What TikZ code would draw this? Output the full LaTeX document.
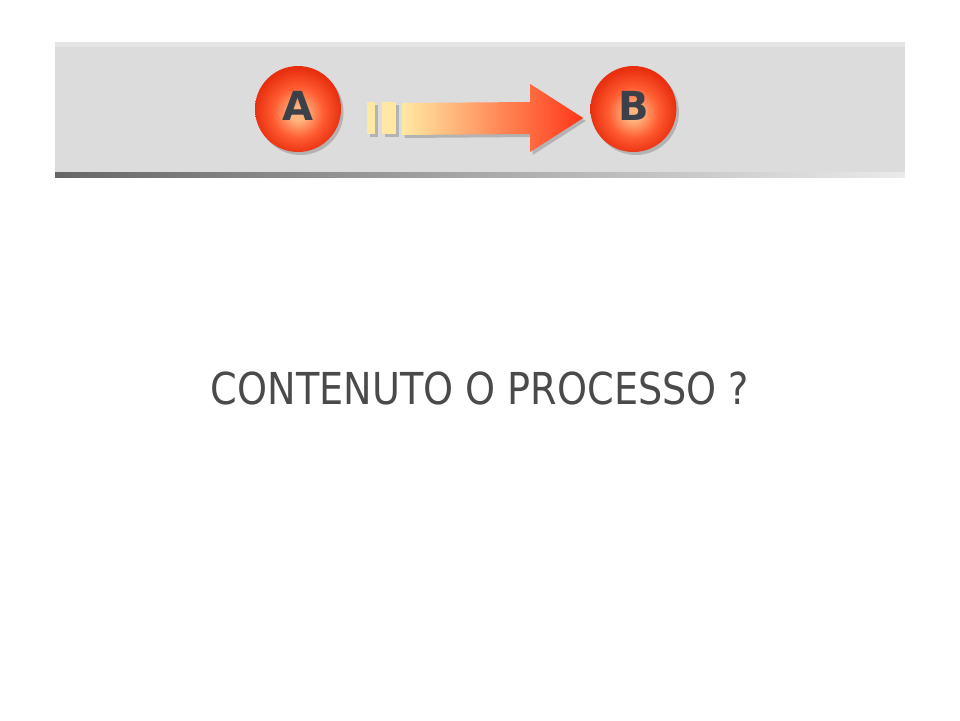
\documentclass[tikz,border=0pt]{standalone}
\usepackage{fontspec}
\newfontfamily\slidefont{DejaVu Sans}
\usetikzlibrary{positioning}
\usetikzlibrary{calc}
\definecolor{bannergray}{HTML}{DCDCDC}
\definecolor{ballcore}{HTML}{FFB47E}
\definecolor{ballmid}{HTML}{FF5A30}
\definecolor{ballrim}{HTML}{E83010}
\definecolor{lettergray}{HTML}{3C4048}
\definecolor{arrowstart}{HTML}{FFE9A2}
\definecolor{arrowmid}{HTML}{FF9A60}
\definecolor{arrowend}{HTML}{FF3618}
\definecolor{textgray}{HTML}{4A4A4A}
\pgfdeclareradialshading{ballshade}{\pgfpoint{0bp}{-3bp}}{color(0bp)=(ballcore); color(4bp)=(ballcore); color(15bp)=(ballmid); color(25bp)=(ballrim); color(50bp)=(ballrim)}

\begin{document}
\begin{tikzpicture}[
  x=1pt, y=-1pt,
  dropshade/.style={preaction={fill=black!45, opacity=0.5, transform canvas={xshift=2.5pt, yshift=-3pt}}},
  ball/.style={circle, minimum size=86pt, inner sep=0pt, shading=ballshade, text=lettergray, font=\slidefont\bfseries\fontsize{40}{40}\selectfont, dropshade},
  bar/.style={fill=arrowstart, dropshade},
  arrowfill/.style={left color=arrowstart, middle color=arrowmid, right color=arrowend, dropshade},
  question/.style={text=textgray, font=\slidefont\fontsize{44}{50}\selectfont}
]
\useasboundingbox (0,0) rectangle (960,720);

% banner
\fill[bannergray] (55,42) rectangle (905,172);
\fill[black!10] (55,42) rectangle (905,47);
\shade[left color=black!60, middle color=black!42, right color=black!8] (55,172) rectangle (905,177);

\node[ball] (A) at (298,109) {\raisebox{-11pt}[0pt][0pt]{A}};
\node[ball, right=249pt of A] (B) {\raisebox{-11pt}[0pt][0pt]{B}};

\coordinate (tail) at ($(A.east)+(61,10)$);
\coordinate (tip) at ($(B.west)+(-7,9)$);

\fill[bar] ($(tail)+(-35,-17)$) rectangle ($(tail)+(-27,15)$);
\fill[bar] ($(tail)+(-20,-17)$) rectangle ($(tail)+(-6,15)$);

\shade[arrowfill] ($(tail)+(0,-16)$) -- ($(tip)+(-53,-16)$) -- ($(tip)+(-53,-34)$) -- (tip)
  -- ($(tip)+(-53,34)$) -- ($(tip)+(-53,16)$) -- ($(tail)+(0,16)$) -- cycle;

\node[question] (title) at (480,388) {\scalebox{0.868}[1]{CONTENUTO O PROCESSO ?}};

\end{tikzpicture}
\end{document}
